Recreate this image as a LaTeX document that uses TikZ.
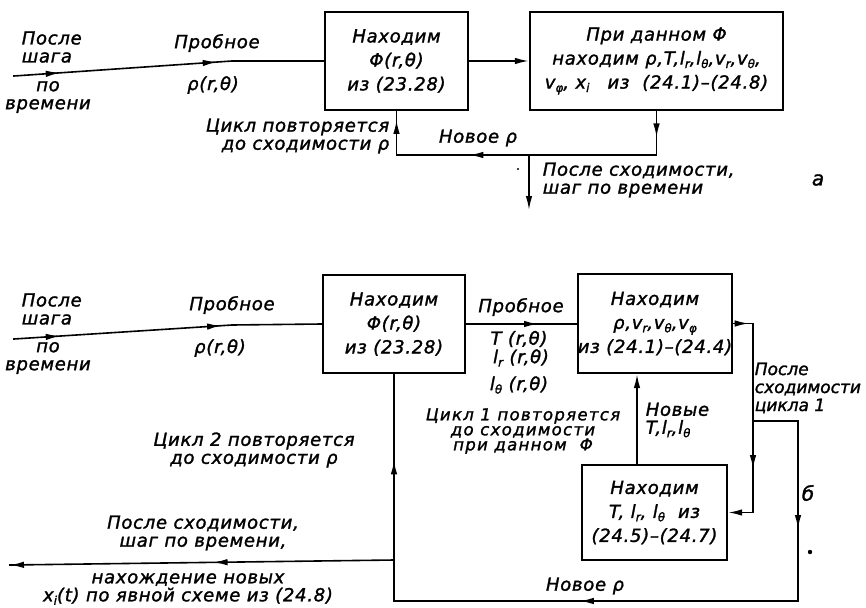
\documentclass[tikz,border=0pt]{standalone}
\usepackage{fontspec}
\setmainfont{DejaVu Sans}[LetterSpace=4, ItalicFeatures={FakeBold=1.5}]
\usetikzlibrary{arrows.meta,decorations.markings}
\newcommand\lo[1]{\raisebox{-0.35ex}{\fontsize{12}{12}\selectfont #1}}
\begin{document}
\begin{tikzpicture}[x=1pt,y=-1pt, line width=1.6pt, line cap=rect,
  boxst/.style={draw, line width=2.3pt, inner sep=0pt, align=center, font=\fontsize{18}{24}\selectfont\itshape},
  lbl/.style={inner sep=0pt, font=\fontsize{18}{18}\selectfont\itshape},
  tip/.style={-{Latex[length=14pt,width=6.5pt]}},
  arrat/.style={postaction={decorate}, decoration={markings, mark=at position #1 with {\arrow{Latex[length=14pt,width=6.5pt]}}}},
  arrtwo/.style 2 args={postaction={decorate}, decoration={markings, mark=at position #1 with {\arrow{Latex[length=14pt,width=6.5pt]}}, mark=at position #2 with {\arrow{Latex[length=14pt,width=6.5pt]}}}},
]
\useasboundingbox (0,0) rectangle (866,607);

% ---------- part a ----------
\node[boxst, minimum width=143pt, minimum height=98pt] (A1) at (396.5,61) {Находим\\Φ(r,θ)\\из (23.28)};
\node[boxst, minimum width=253pt, minimum height=98pt] (A2) at (656.5,61) {При данном Φ\\находим ρ,T,l\lo{r},l\lo{θ},v\lo{r},v\lo{θ},\\v\lo{φ}, x\lo{i}\quad из\ \ (24.1)–(24.8)};

\coordinate (ainA) at (14,76);
\coordinate (akA) at (232,61);
\draw[arrtwo={0.21}{0.93}] (ainA) -- (akA);
\draw (akA) -- (A1.west);
\draw[tip] (A1.east) -- (A2.west);

\coordinate (yA) at (0,155);
\coordinate (aout) at (529,210);
\draw[arrat=0.6] (A2.south) -- (A2.south |- yA);
\draw[arrat=0.72] (A2.south |- yA) -- (A1.south |- yA);
\draw[arrat=0.8] (A1.south |- yA) -- (A1.south);
\draw[tip] (aout |- yA) -- (aout);

\node[lbl, align=left, anchor=west] (la1) at (21,47) {После\\шага};
\node[lbl, align=center] (la2) at (48,97) {по\\времени};
\node[lbl] (la3) at (217,43) {Пробное};
\node[lbl] (la4) at (213,85) {ρ(r,θ)};
\node[lbl, align=right, anchor=east] (la5) at (390,136) {Цикл повторяется\\до сходимости ρ};
\node[lbl] (la6) at (478,138) {Новое ρ};
\node[lbl, align=left, anchor=west] (la7) at (542,180) {После сходимости,\\шаг по времени};
\node[lbl, font=\fontsize{20}{20}\selectfont\itshape] (la8) at (818,180) {а};
\fill (518,169) circle (1.2pt);

% ---------- part b ----------
\node[boxst, minimum width=142pt, minimum height=98pt] (B1) at (394,324) {Находим\\Φ(r,θ)\\из (23.28)};
\node[boxst, minimum width=146pt, minimum height=99pt] (B2) at (655,323.5) {Находим\\ρ,v\lo{r},v\lo{θ},v\lo{φ}\\из (24.1)–(24.4)};
\node[boxst, minimum width=145pt, minimum height=95pt] (B3) at (654.5,512.5) {Находим\\T, l\lo{r}, l\lo{θ}\ \ из\\(24.5)–(24.7)};

\coordinate (ainB) at (14,339);
\coordinate (akB) at (232,325);
\draw[arrtwo={0.21}{0.95}] (ainB) -- (akB);
\draw (akB) -- (B1.west);
\draw[arrat=0.65] (B1.east) -- (B1.east -| B2.west);

\coordinate (xr1) at (753,0);
\coordinate (xr2) at (798,0);
\coordinate (yb) at (0,421);
\coordinate (ybot) at (0,601);
\coordinate (yo) at (0,560);
\coordinate (bout) at (10,565);
\coordinate (xv) at (637,0);

\draw[arrat=0.78] (B2.east) -- (B2.east -| xr1);
\draw[arrat=0.77] (B2.east -| xr1) -- (B3.east -| xr1);
\draw[tip] (B3.east -| xr1) -- (B3.east);
\draw (xr1 |- yb) -- (xr2 |- yb);
\draw[arrat=0.6] (xr2 |- yb) -- (xr2 |- ybot);
\draw[arrat=0.54] (xr2 |- ybot) -- (B1.south |- ybot);
\draw[arrat=0.62] (B1.south |- ybot) -- (B1.south);
\draw[arrtwo={0.47}{1}] (B1.south |- yo) -- (bout);
\draw[tip] (B3.north -| xv) -- (B2.south -| xv);

\node[lbl, align=left, anchor=west] (lb1) at (21,309) {После\\шага};
\node[lbl, align=center] (lb2) at (48,358) {по\\времени};
\node[lbl] (lb3) at (232,305) {Пробное};
\node[lbl] (lb4) at (220,348) {ρ(r,θ)};
\node[lbl] (lb5) at (521,307) {Пробное};
\node[lbl] (lb6) at (519,339) {T (r,θ)};
\node[lbl] (lb7) at (521,358) {l\lo{r} (r,θ)};
\node[lbl] (lb8) at (519,385) {l\lo{θ} (r,θ)};
\node[lbl, align=center, font=\fontsize{16.5}{15}\selectfont\itshape\addfontfeatures{LetterSpace=8}] (lb9) at (523,431) {Цикл 1 повторяется\\до сходимости\\при данном \ Φ};
\node[lbl, align=left, anchor=west] (lb10) at (645,420) {Новые\\T,l\lo{r},l\lo{θ}};
\node[lbl, align=left, anchor=west, font=\fontsize{17}{18}\selectfont\itshape\addfontfeatures{LetterSpace=0}] (lb11) at (754,388) {После\\сходимости\\цикла 1};
\node[lbl, font=\fontsize{20}{20}\selectfont\itshape] (lb12) at (808,493) {б};
\fill (810,552) circle (2.2pt);
\node[lbl] (lb13) at (585,586) {Новое ρ};
\node[lbl, align=center] (lb14) at (254,450) {Цикл 2 повторяется\\до сходимости ρ};
\node[lbl, align=center] (lb15) at (203,533) {После сходимости,\\шаг по времени,};
\node[lbl, align=center] (lb16) at (188,589) {нахождение новых\\x\lo{i}(t) по явной схеме из (24.8)};
\end{tikzpicture}
\end{document}
